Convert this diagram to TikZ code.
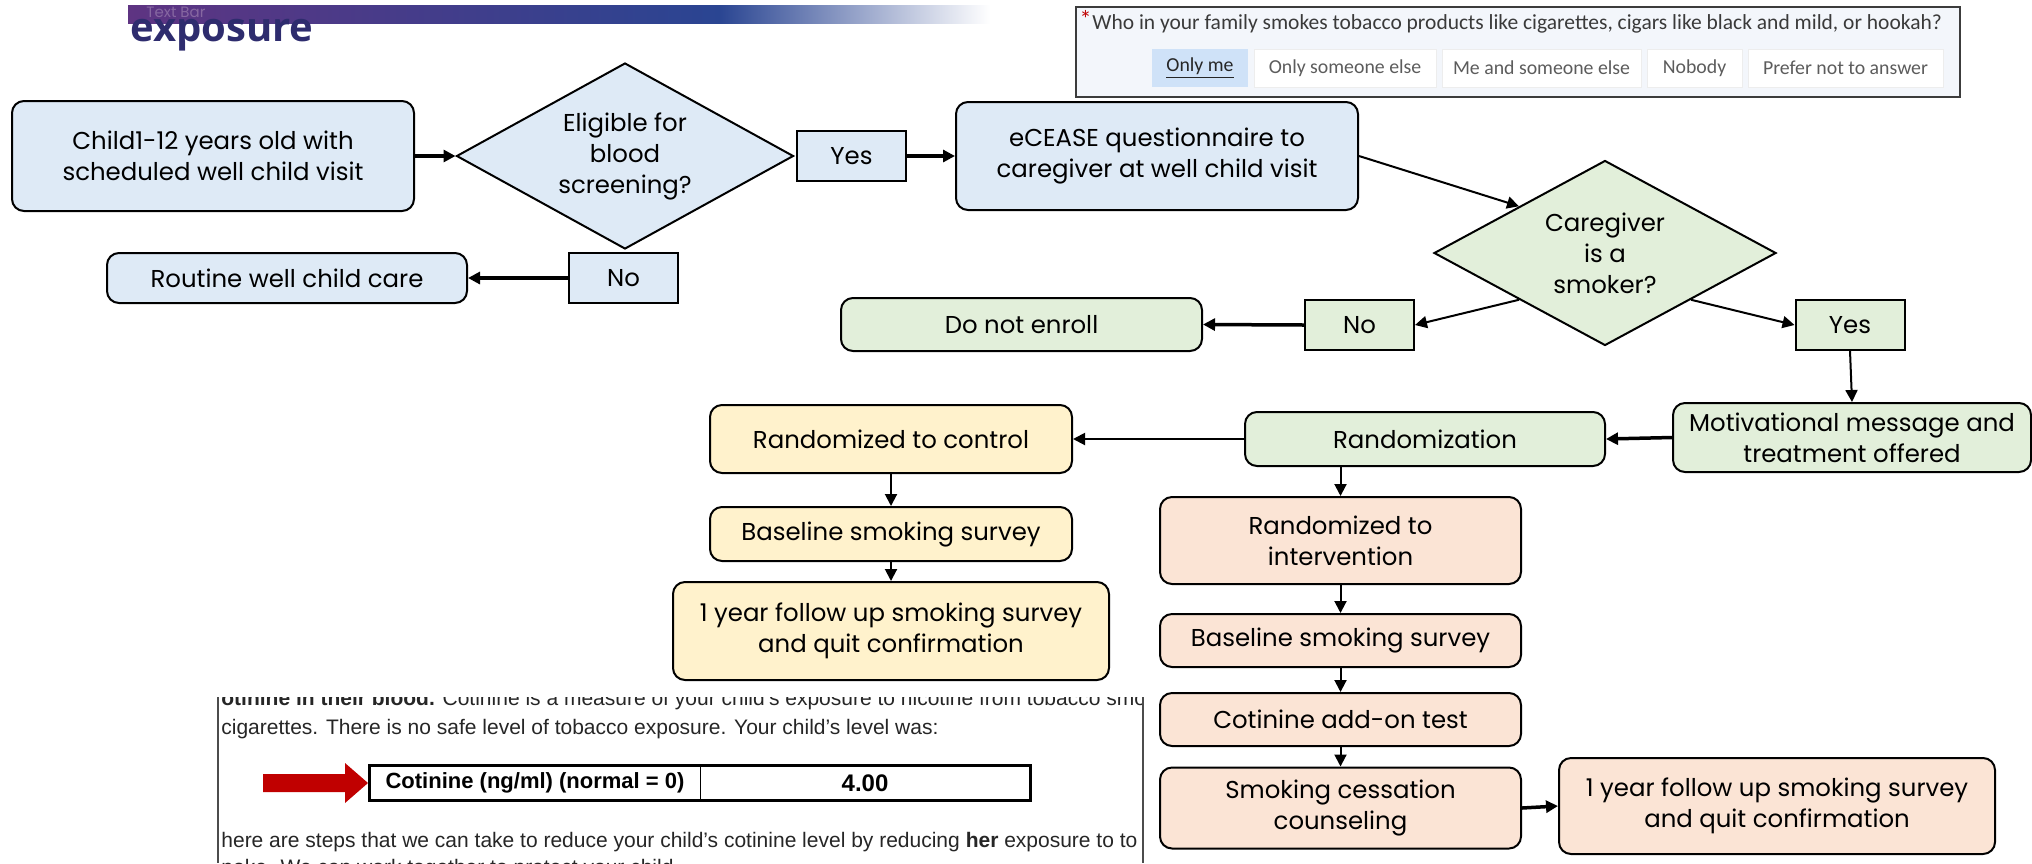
\documentclass[tikz,border=0pt]{standalone}
\usepackage{fontspec}
\setmainfont{Poppins}
\newfontfamily\formfont{Carlito}
\newfontfamily\reportfont{Liberation Sans}
\newfontfamily\headfont{Open Sans}
\usetikzlibrary{shapes.geometric,arrows.meta}
\newdimen\px
\px=0.5pt
\definecolor{boxblue}{HTML}{DEEAF6}
\definecolor{boxgreen}{HTML}{E2EFDA}
\definecolor{boxyellow}{HTML}{FFF2CC}
\definecolor{boxpeach}{HTML}{FBE4D5}
\definecolor{titlenavy}{HTML}{2E2C6E}
\definecolor{barpurple}{HTML}{5E3482}
\definecolor{barblue}{HTML}{2A4592}
\definecolor{formbg}{HTML}{F3F6FB}
\definecolor{formborder}{HTML}{3C3C3C}
\definecolor{formtext}{HTML}{3A3A3A}
\definecolor{formgray}{HTML}{5C5C5C}
\definecolor{formsel}{HTML}{CFE2F8}
\definecolor{reportred}{HTML}{C00000}
\newcommand\flowfont{\fontsize{12.2}{15.5}\selectfont}
\tikzset{
  flowbox/.style={rectangle, rounded corners=12\px, draw=black, line width=2\px, align=center, inner sep=0pt, font=\flowfont},
  answer/.style={rectangle, draw=black, line width=2\px, align=center, inner sep=0pt, minimum width=109\px, minimum height=50\px, font=\flowfont},
  decision/.style={diamond, aspect=1.8, draw=black, line width=2\px, align=center, inner sep=0pt, font=\flowfont},
  flow/.style={-{Triangle[length=6pt,width=6pt]}, line width=1pt},
  flowthick/.style={flow, line width=1.75pt},
  formbutton/.style={rectangle, fill=white, draw=black!7, minimum height=38\px, inner sep=0pt, text=formgray, font=\formfont\fontsize{9.9}{11}\selectfont},
  report/.style={inner sep=0pt, text=black!85, font=\reportfont\fontsize{10.5}{12}\selectfont},
  cell/.style={rectangle, draw=black, line width=1\px, minimum height=34\px, inner sep=0pt, font=\reportfont\fontsize{11}{12}\selectfont}
}
\begin{document}
\begin{tikzpicture}[x=0.5pt,y=-0.5pt]
\useasboundingbox (0,0) rectangle (2032,863);

\shade[left color=barpurple, right color=barblue] (128,5) rectangle (720,23);
\shade[left color=barblue, right color=white] (719,5) rectangle (990,23);
\node[anchor=west, inner sep=0pt, text=barpurple!75!white, font=\fontsize{7.5}{8}\selectfont] (bartext) at (146,12) {Text Bar};
\node[anchor=base west, inner sep=0pt, text=titlenavy, font=\headfont\bfseries\fontsize{20}{22}\selectfont] (title) at (130,41) {exposure};

\node[draw=formborder, line width=2\px, fill=formbg, minimum width=884\px, minimum height=90\px, inner sep=0pt] (survey) at (1518,52) {};
\node[anchor=base west, inner sep=0pt, text=formtext, font=\formfont\fontsize{10.75}{12}\selectfont] (question) at (1092,29) {Who in your family smokes tobacco products like cigarettes, cigars like black and mild, or hookah?};
\node[anchor=base east, inner sep=0pt, text=red!75!black, font=\formfont\fontsize{12}{12}\selectfont] (star) at (1092,27) {*};
\node[formbutton, fill=formsel, draw=none, minimum width=96\px, text=black!85] (btn1) at (1200,68) {\underline{Only me}};
\foreach \cx/\bw/\btext [count=\i from 2] in {1345/182/Only someone else, 1541.5/199/Me and someone else, 1694.5/95/Nobody, 1845.5/195/Prefer not to answer}
  \node[formbutton, minimum width=\bw\px] (btn\i) at (\cx,68) {\btext};

\node[flowbox, fill=boxblue, minimum width=402\px, minimum height=110\px] (child) at (213,156) {Child1-12 years old with\\scheduled well child visit};
\node[decision, fill=boxblue, minimum width=337\px, minimum height=186\px] (delig) at (625,156) {Eligible for\\blood\\screening?};
\node[answer, fill=boxblue] (yes1) at (851.5,156) {Yes};
\node[flowbox, fill=boxblue, minimum width=402\px, minimum height=108\px] (ecease) at (1157,156) {eCEASE questionnaire to\\caregiver at well child visit};
\node[flowbox, fill=boxblue, minimum width=360\px, minimum height=50\px] (routine) at (287,278) {Routine well child care};
\node[answer, fill=boxblue] (no1) at (623.5,278) {No};

\node[decision, fill=boxgreen, minimum width=342\px, minimum height=185\px] (dcare) at (1605,253) {Caregiver\\is a\\smoker?};
\node[flowbox, fill=boxgreen, minimum width=361\px, minimum height=53\px] (noenroll) at (1021.5,324.5) {Do not enroll};
\node[answer, fill=boxgreen] (no2) at (1359.5,325) {No};
\node[answer, fill=boxgreen] (yes2) at (1850,325) {Yes};
\node[flowbox, fill=boxgreen, minimum width=358\px, minimum height=69\px] (motiv) at (1852,437.5) {Motivational message and\\treatment offered};
\node[flowbox, fill=boxgreen, minimum width=360\px, minimum height=54\px] (rando) at (1425,439) {Randomization};

\node[flowbox, fill=boxyellow, minimum width=362\px, minimum height=68\px] (rctrl) at (891,439) {Randomized to control};
\node[flowbox, fill=boxyellow, minimum width=362\px, minimum height=54\px] (bctrl) at (891,534) {Baseline smoking survey};
\node[flowbox, fill=boxyellow, minimum width=436\px, minimum height=98\px] (fctrl) at (891,631) {1 year follow up smoking survey\\and quit confirmation};

\node[flowbox, fill=boxpeach, minimum width=361\px, minimum height=87\px] (rint) at (1340.5,540.5) {Randomized to\\intervention};
\node[flowbox, fill=boxpeach, minimum width=361\px, minimum height=53\px] (bint) at (1340.5,640.5) {Baseline smoking survey};
\node[flowbox, fill=boxpeach, minimum width=361\px, minimum height=53\px] (cot) at (1340.5,719.5) {Cotinine add-on test};
\node[flowbox, fill=boxpeach, minimum width=361\px, minimum height=81\px] (cess) at (1340.5,808) {Smoking cessation\\counseling};
\node[flowbox, fill=boxpeach, minimum width=436\px, minimum height=96\px] (fint) at (1777,806) {1 year follow up smoking survey\\and quit confirmation};

\draw[flowthick] (child.east) -- (delig.west);
\draw[flowthick] (yes1.east) -- (ecease.west);
\draw[flowthick] (no1.west) -- (routine.east);
\draw[flow] (ecease.east) -- (dcare.north west);
\draw[flow] (dcare.south west) -- (no2.east);
\draw[flow] (dcare.south east) -- (yes2.west);
\draw[flowthick] (no2.west) -- (noenroll.east);
\draw[flow] (yes2.south) -- (motiv.north);
\draw[flowthick] (motiv.west) -- (rando.east);
\draw[flow] (rando.west) -- (rctrl.east);
\draw[flow] (rctrl.south) -- (bctrl.north);
\draw[flow] (bctrl.south) -- (fctrl.north);
\draw[flow] (rint.north |- rando.south) -- (rint.north);
\draw[flow] (rint.south) -- (bint.north);
\draw[flow] (bint.south) -- (cot.north);
\draw[flow] (cot.south) -- (cess.north);
\draw[flowthick] (cess.east) -- (fint.west);

\begin{scope}
\clip (218,697) rectangle (1143,863);
\fill[white] (218,697) rectangle (1143,863);
\node[report, anchor=base west] (rline1) at (221,705) {\textbf{otinine in their blood.} Cotinine is a measure of your child’s exposure to nicotine from tobacco smo};
\node[report, anchor=base west] (rline2) at (221,734) {cigarettes. There is no safe level of tobacco exposure. Your child’s level was:};
\node[report, anchor=base west] (rline3) at (221,847) {here are steps that we can take to reduce your child’s cotinine level by reducing \textbf{her} exposure to to};
\node[report, anchor=base west] (rline4) at (221,874) {noke. We can work together to protect your child.};
\end{scope}
\draw[black!70, line width=1.5\px] (218,697) -- (218,863) (1143,697) -- (1143,863);
\fill[reportred] (263,774) -- (345,774) -- (345,763) -- (368,783) -- (345,803) -- (345,792) -- (263,792) -- cycle;
\node[cell, minimum width=330\px] (tblkey) at (535,783) {\textbf{Cotinine (ng/ml) (normal = 0)}};
\node[cell, minimum width=330\px, font=\reportfont\fontsize{12}{12}\selectfont] (tblval) at (865,783) {\textbf{4.00}};
\draw[line width=3\px] (tblkey.north west) rectangle (tblval.south east);
\end{tikzpicture}
\end{document}
